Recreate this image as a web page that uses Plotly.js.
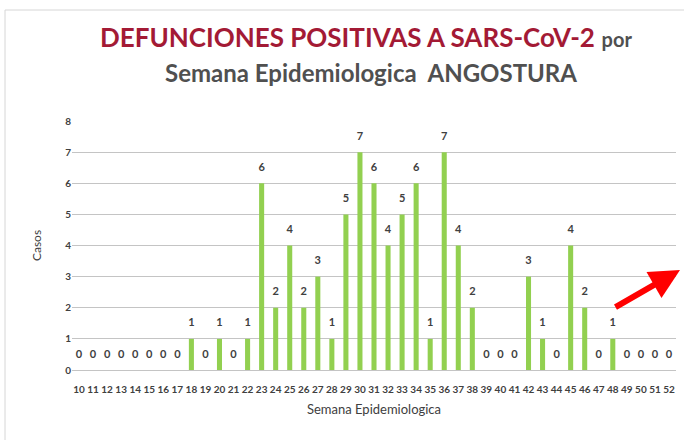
<!DOCTYPE html>
<html>
<head>
<meta charset="utf-8">
<script src="https://cdn.plot.ly/plotly-3.0.1.min.js"></script>
<style>html,body{margin:0;padding:0;background:#fff;}#chart{width:684px;height:440px;}</style>
</head>
<body>
<div id="chart"></div>
<script>
const weeks = ["10","11","12","13","14","15","16","17","18","19","20","21","22","23","24","25","26","27","28","29","30","31","32","33","34","35","36","37","38","39","40","41","42","43","44","45","46","47","48","49","50","51","52"];
const deaths = [0,0,0,0,0,0,0,0,1,0,1,0,1,6,2,4,2,3,1,5,7,6,4,5,6,1,7,4,2,0,0,0,3,1,0,4,2,0,1,0,0,0,0];
const titleLine1 = "DEFUNCIONES POSITIVAS A SARS-CoV-2";
const titleLine1b = "por";
const titleLine2 = "Semana Epidemiologica  ANGOSTURA";
const xTitle = "Semana Epidemiologica";
const yTitle = "Casos";
const yTicks = [0,1,2,3,4,5,6,7,8];

const FONT = "Lato, 'Open Sans', sans-serif";

const traces = [
  {
    type: 'bar',
    x: weeks,
    y: deaths,
    marker: {color: '#92d050'},
    hoverinfo: 'x+y'
  },
  {
    type: 'scatter',
    mode: 'markers+text',
    x: weeks,
    y: deaths,
    text: deaths.map(String),
    textposition: 'top center',
    marker: {size: 14, opacity: 0, color: '#ffffff'},
    textfont: {family: FONT, size: 11, color: '#404040', weight: 'bold'},
    cliponaxis: false,
    hoverinfo: 'skip'
  }
];

const layout = {
  width: 684,
  height: 440,
  margin: {l: 72, r: 8, t: 121, b: 70},
  paper_bgcolor: '#ffffff',
  plot_bgcolor: '#ffffff',
  showlegend: false,
  bargap: 0.64,
  font: {family: FONT, color: '#404040'},
  xaxis: {
    type: 'category',
    range: [-0.5, weeks.length - 0.5],
    tickvals: weeks,
    ticktext: weeks,
    tickfont: {family: "'Liberation Sans Narrow', " + FONT, size: 10, color: '#404040', weight: 'bold'},
    tickangle: 0,
    showgrid: false,
    showline: false,
    zeroline: false,
    ticks: '',
    ticklabelstandoff: 12,
    automargin: false,
    title: {text: xTitle, font: {family: FONT, size: 13, color: '#404040'}, standoff: 10}
  },
  yaxis: {
    range: [0, 8],
    tickmode: 'array',
    tickvals: yTicks,
    showgrid: true,
    gridcolor: '#c4c4c4',
    gridwidth: 1,
    zeroline: true,
    zerolinecolor: '#c4c4c4',
    zerolinewidth: 1,
    showline: false,
    ticks: '',
    tickfont: {family: FONT, size: 10, color: '#404040', weight: 'bold'},
    automargin: false,
    title: {text: yTitle, font: {family: FONT, size: 12, color: '#404040'}, standoff: 20}
  },
  annotations: [
    {
      xref: 'paper', yref: 'paper',
      x: (366 - 72) / 604, y: (370 - 37) / 249,
      xanchor: 'center', yanchor: 'middle',
      showarrow: false,
      text: '<b><span style="color:#a31a35">' + titleLine1 + '</span></b> <b><span style="font-size:20px;color:#505050">' + titleLine1b + '</span></b>',
      font: {family: FONT, size: 26, color: '#a31a35'}
    },
    {
      xref: 'paper', yref: 'paper',
      x: (371 - 72) / 604, y: (370 - 72) / 249,
      xanchor: 'center', yanchor: 'middle',
      showarrow: false,
      text: '<b>' + titleLine2 + '</b>',
      font: {family: FONT, size: 24, color: '#505050'}
    },
    {
      xref: 'paper', yref: 'paper',
      x: (680 - 72) / 604, y: (370 - 270) / 249,
      ax: -66, ay: 38,
      showarrow: true,
      arrowhead: 2,
      arrowsize: 1,
      arrowwidth: 6,
      arrowcolor: '#ff0000',
      text: ''
    }
  ],
  shapes: [
    {
      type: 'rect', xref: 'paper', yref: 'paper',
      x0: (5 - 72) / 604, x1: (700 - 72) / 604,
      y0: (370 - 460) / 249, y1: (370 - 10) / 249,
      line: {color: '#d6d6d6', width: 1},
      fillcolor: 'rgba(0,0,0,0)'
    }
  ]
};

Plotly.newPlot('chart', traces, layout, {displayModeBar: false, staticPlot: true});
</script>
</body>
</html>
